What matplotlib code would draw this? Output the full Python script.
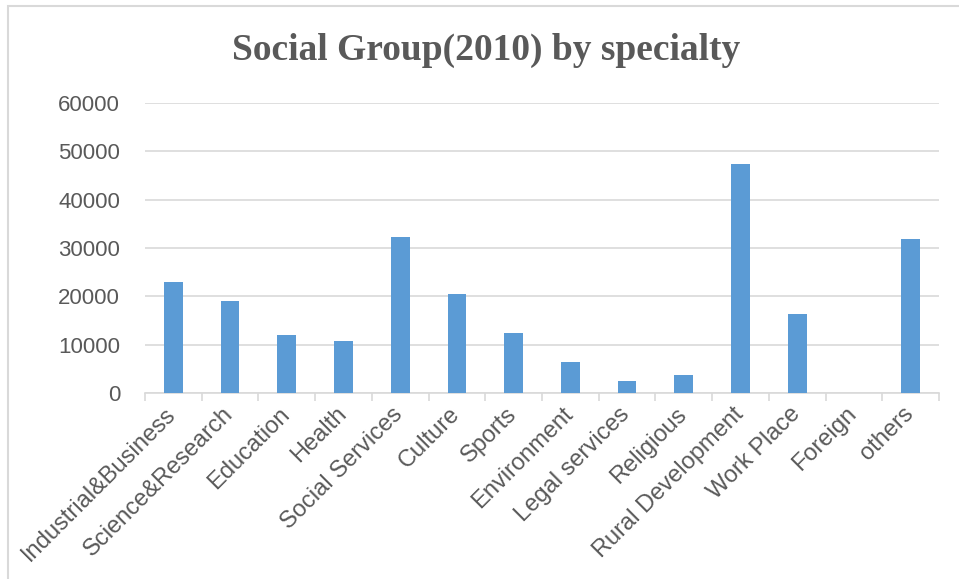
import matplotlib.pyplot as plt
import matplotlib.transforms as mtransforms
from matplotlib.patches import Rectangle

# categories and values
specialties = ['Industrial&Business', 'Science&Research', 'Education', 'Health',
               'Social Services', 'Culture', 'Sports', 'Environment',
               'Legal services', 'Religious', 'Rural Development', 'Work Place',
               'Foreign', 'others']
groups = [23000, 19100, 12000, 10800, 32300, 20500, 12400, 6500,
          2600, 3800, 47300, 16400, 0, 31900]

y_ticks = [0, 10000, 20000, 30000, 40000, 50000, 60000]

text_col = '#595959'
grid_col = '#D9D9D9'
bar_col = '#5B9BD5'

plt.rcParams['font.family'] = ['Liberation Sans', 'DejaVu Sans']

fig = plt.figure(figsize=(9.59, 5.79), dpi=100)
ax = fig.add_axes([0.1512, 0.3207, 0.8279, 0.5019])

x = range(len(specialties))
ax.bar(x, groups, width=0.33, color=bar_col, zorder=3)

ax.set_xlim(-0.5, len(specialties) - 0.5)
ax.set_ylim(0, 60000)
ax.set_yticks(y_ticks)
ax.set_yticklabels([str(v) for v in y_ticks])
ax.yaxis.grid(True, color=grid_col, linewidth=1.2, zorder=0)

ax.set_xticks(list(x))
ax.set_xticklabels(specialties, rotation=45, ha='right', rotation_mode='anchor')
ax.set_xticks([i - 0.5 for i in range(len(specialties) + 1)], minor=True)
ax.tick_params(axis='x', which='major', length=0, pad=7, labelsize=17, labelcolor=text_col)
ax.tick_params(axis='x', which='minor', length=6, color=grid_col, width=1.2)
ax.tick_params(axis='y', length=0, pad=18, labelsize=16, labelcolor=text_col)

# nudge the rotated labels a little to the left
shift = mtransforms.ScaledTranslation(-6 / 72, 0, fig.dpi_scale_trans)
for lbl in ax.get_xticklabels():
    lbl.set_transform(lbl.get_transform() + shift)

for side in ['top', 'right', 'left']:
    ax.spines[side].set_visible(False)
ax.spines['bottom'].set_color(grid_col)
ax.spines['bottom'].set_linewidth(1.2)

fig.text(0.507, 0.913, 'Social Group(2010) by specialty', ha='center', va='center',
         fontsize=27, fontweight='bold', color=text_col, family='Liberation Serif')

# chart border (cropped on the right and bottom)
fig.patches.append(Rectangle((7.5 / 959, -0.1), 1.2, (579 - 5.5) / 579 + 0.1,
                             transform=fig.transFigure, fill=False,
                             edgecolor=grid_col, linewidth=1.5))

fig.savefig('out.png', dpi=100)
